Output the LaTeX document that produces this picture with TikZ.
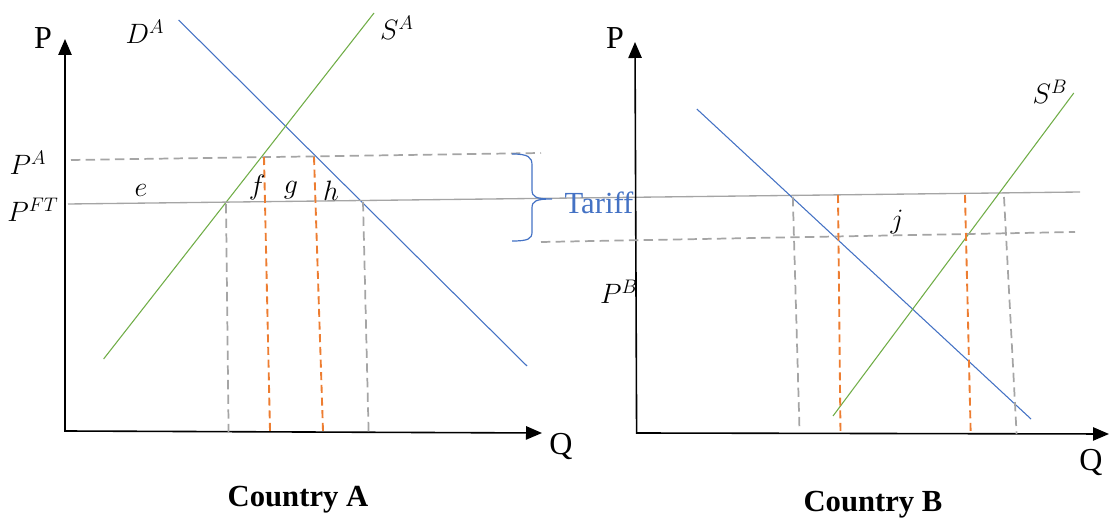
\documentclass[tikz,border=0pt]{standalone}
\usepackage{fix-cm}
\usepackage{fontspec}
\setmainfont{Liberation Serif}
\usetikzlibrary{arrows.meta}
\definecolor{demandblue}{HTML}{4472C4}
\definecolor{supplygreen}{HTML}{70AD47}
\definecolor{quotaorange}{HTML}{ED7D31}
\definecolor{pricegray}{HTML}{A5A5A5}
\newcommand{\bigfont}{\fontsize{21}{24}\selectfont}

\begin{document}
\begin{tikzpicture}[x=0.75pt,y=-0.75pt,
  axis/.style={line width=1.2pt,{Triangle[length=12pt,width=10pt]}-{Triangle[length=12pt,width=10pt]}},
  demand/.style={demandblue,line width=0.8pt},
  supply/.style={supplygreen,line width=0.8pt},
  world/.style={pricegray,line width=1pt},
  grayguide/.style={pricegray,line width=1.3pt,dash pattern=on 7pt off 4pt},
  quota/.style={quotaorange,line width=1.4pt,dash pattern=on 6pt off 3.5pt},
  lbl/.style={font=\bigfont,inner sep=0pt},
  axlbl/.style={font=\fontsize{24}{27}\selectfont,inner sep=0pt},
  title/.style={font=\fontsize{23}{26}\selectfont\bfseries,inner sep=0pt}]
\useasboundingbox (0,0) rectangle (1110,523);
% Country A
\draw[axis] (65,39) -- (65,431) -- (542,433);
\draw[demand] (178.6,20) -- (527,366);
\draw[supply] (374,13) -- (103.6,359);
\draw[grayguide] (71,160) -- (541,153);
\draw[world] (68,204) -- (1080,192);
\draw[grayguide] (226,204) -- (228.6,433);
\draw[grayguide] (363,202) -- (368.6,432);
\draw[quota] (264,157) -- (270,431);
\draw[quota] (314,157) -- (323,431);
\node[axlbl] (pa) at (43,38) {P};
\node[axlbl] (qa) at (561,447) {Q};
\node[lbl] (da) at (145,32) {$D^A$};
\node[lbl] (sa) at (397,28) {$S^A$};
\node[lbl] (pautarky) at (28,163) {$P^A$};
\node[lbl] (pft) at (33,210) {$P^{FT}$};
\node[lbl] (e) at (141,190) {$e$};
\node[lbl] (f) at (257,188) {$f$};
\node[lbl] (g) at (291,190) {$g$};
\node[lbl] (h) at (331,191) {$h$};
\node[title] (ctya) at (298,500) {Country A};
% tariff brace
\draw[demandblue,line width=0.9pt] (512,154) .. controls (528,154) and (532,157) .. (532,165)
  -- (532,190) .. controls (532,197) and (536,199) .. (552,199)
  .. controls (536,199) and (532,201) .. (532,208)
  -- (532,232) .. controls (532,239) and (528,241) .. (512,241);
\node[font=\fontsize{23}{26}\selectfont,text=demandblue,inner sep=0pt] (tariff) at (599,203) {Tariff};
% Country B
\draw[axis] (635,42) -- (636.6,433) -- (1109,434);
\draw[demand] (696.8,109) -- (1031,419);
\draw[supply] (833,416) -- (1073.8,93);
\draw[grayguide] (541,242) -- (1075,232);
\draw[grayguide] (792.8,197) -- (799.5,430);
\draw[grayguide] (1004,197) -- (1016.6,434);
\draw[quota] (838,195) -- (840.5,434);
\draw[quota] (965,195) -- (970.7,434);
\node[axlbl] (pb) at (615,38) {P};
\node[axlbl] (qb) at (1091,463) {Q};
\node[lbl] (sb) at (1050,92) {$S^B$};
\node[lbl] (pbautarky) at (619,292) {$P^B$};
\node[lbl] (j) at (897,222) {$j$};
\node[title] (ctyb) at (873,505) {Country B};
\end{tikzpicture}
\end{document}
